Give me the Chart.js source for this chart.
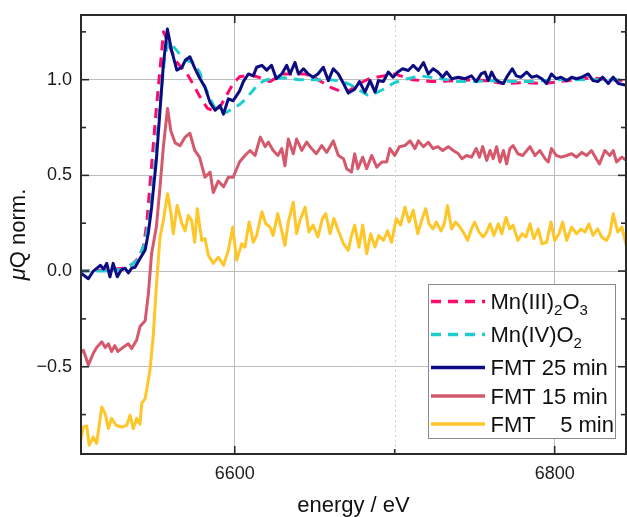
<!DOCTYPE html>
<html>
<head>
<meta charset="utf-8">
<script src="https://cdn.jsdelivr.net/npm/chart.js@4.4.1/dist/chart.umd.min.js"></script>
<style>
  html, body { margin: 0; padding: 0; background: #fff; }
  #chart { display: block; }
</style>
</head>
<body>
<canvas id="chart" width="627" height="517"></canvas>
<script>
// axis ticks
const xTicks = [6600, 6800];
const xMinorTicks = [6700];
const yTicks = [-0.5, 0, 0.5, 1.0];
const yMinorTicks = [-0.75, -0.25, 0.25, 0.75, 1.25];

// references
const mn2o3Energy = [6503, 6520, 6530, 6536, 6540, 6543, 6545, 6547, 6549, 6551, 6553, 6555.5, 6559, 6563, 6567, 6571, 6575, 6579, 6583, 6587, 6591, 6595, 6599, 6603, 6610, 6616, 6622, 6630, 6644, 6650, 6655, 6660, 6666, 6672, 6678, 6684, 6690, 6700, 6711, 6723, 6738, 6752, 6768, 6780, 6793, 6808, 6822, 6835, 6845];
const mn2o3Mu = [0.0, 0.005, 0.015, 0.035, 0.07, 0.13, 0.25, 0.45, 0.65, 0.85, 1.03, 1.25, 1.18, 1.1, 1.06, 1.02, 0.96, 0.9, 0.85, 0.835, 0.86, 0.92, 0.98, 1.015, 1.025, 1.01, 0.99, 1.03, 1.03, 1.01, 0.985, 0.96, 0.94, 0.945, 0.98, 1.005, 1.015, 1.03, 1.0, 0.99, 0.995, 1.0, 0.98, 0.985, 0.98, 0.995, 1.01, 1.0, 0.995];

const mno2Energy = [6503, 6520, 6530, 6535, 6538, 6541, 6544, 6547, 6550, 6553, 6556, 6558.5, 6562, 6566, 6570, 6574, 6578, 6582, 6587, 6591, 6595, 6599, 6603, 6607, 6611, 6615, 6620, 6630, 6640, 6650, 6660, 6667, 6672, 6677, 6683, 6688, 6693, 6700, 6708, 6716, 6725, 6740, 6750, 6760, 6775, 6786, 6800, 6815, 6830, 6845];
const mno2Mu = [0.0, 0.0, 0.01, 0.03, 0.05, 0.09, 0.15, 0.3, 0.55, 0.85, 1.1, 1.2, 1.17, 1.13, 1.1, 1.09, 1.04, 0.95, 0.86, 0.83, 0.83, 0.85, 0.87, 0.9, 0.94, 0.98, 1.0, 1.01, 1.0, 1.0, 1.0, 0.99, 0.975, 0.95, 0.92, 0.93, 0.95, 0.985, 1.005, 1.02, 1.01, 0.99, 0.99, 0.995, 0.99, 0.99, 1.0, 1.0, 1.0, 1.0];

// FMT 25 min
const fmt25Energy = [6503, 6508.5, 6511.6, 6516, 6518, 6520, 6522, 6524, 6526.6, 6529, 6531.4, 6533.5, 6535.6, 6537.7, 6540.8, 6544, 6546, 6548, 6551, 6553.3, 6555.4, 6557.9, 6560.6, 6563.8, 6567, 6569, 6572, 6575, 6578, 6581.4, 6584.6, 6587.7, 6590.8, 6593, 6596, 6599, 6603, 6605.4, 6608.5, 6611.6, 6613.7, 6617, 6620, 6623, 6626, 6629.4, 6632.5, 6634.6, 6637.7, 6639.8, 6643, 6646, 6649, 6652, 6655.4, 6658.5, 6661.6, 6664.8, 6668, 6671, 6675, 6678, 6681.4, 6684.6, 6687.7, 6689.8, 6692.9, 6696, 6699, 6702, 6705, 6708.5, 6711.6, 6714.8, 6718, 6721, 6724, 6727, 6730, 6732.5, 6735.6, 6739.8, 6744, 6748, 6751, 6754, 6756.4, 6758.5, 6760.6, 6762.7, 6764.8, 6768, 6770, 6773.5, 6776, 6779, 6782.5, 6785.6, 6788.8, 6792, 6795, 6798, 6801, 6804, 6807.5, 6810.6, 6813.7, 6817, 6821, 6824, 6827, 6830, 6833.5, 6836.6, 6839.8, 6845];
const fmt25Mu = [-0.005, -0.04, 0.0, 0.03, 0.01, 0.04, -0.03, 0.04, -0.03, 0.005, 0.015, -0.01, 0.015, 0.02, 0.065, 0.11, 0.2, 0.33, 0.58, 0.84, 1.08, 1.265, 1.15, 1.05, 1.065, 1.1, 1.12, 1.06, 1.01, 0.96, 0.88, 0.84, 0.865, 0.82, 0.9, 0.89, 0.94, 0.99, 1.03, 1.02, 1.065, 1.075, 1.05, 1.075, 1.005, 1.03, 1.075, 1.03, 1.09, 1.03, 1.057, 1.03, 1.013, 1.03, 1.065, 0.995, 1.057, 1.03, 0.98, 0.93, 0.95, 0.99, 0.935, 0.995, 0.935, 0.995, 0.99, 1.04, 1.013, 1.04, 1.057, 1.048, 1.075, 1.048, 1.09, 1.03, 1.057, 1.04, 1.013, 1.04, 1.005, 1.013, 1.005, 1.02, 0.99, 1.03, 1.04, 0.995, 1.04, 1.005, 0.99, 0.98, 1.013, 1.057, 1.02, 1.013, 1.04, 1.013, 1.02, 1.005, 0.98, 1.03, 1.005, 1.013, 0.995, 1.013, 1.005, 1.013, 1.03, 0.995, 0.99, 1.013, 0.98, 1.013, 0.98, 0.97];

// FMT 15 min
const fmt15Energy = [6503.3, 6505.4, 6508.5, 6511.6, 6513.7, 6516.9, 6519, 6521, 6523, 6525, 6527, 6530, 6533.5, 6535.6, 6538.7, 6540.8, 6544, 6546, 6548, 6551, 6553.3, 6555.4, 6558, 6560, 6562.7, 6565.8, 6569, 6572, 6575, 6578, 6581.4, 6584.6, 6586.6, 6589.7, 6593, 6596, 6599, 6603, 6606.4, 6609.6, 6612.7, 6616, 6619, 6621, 6624, 6627, 6629.4, 6631.4, 6633.5, 6636.6, 6638.7, 6641.9, 6645, 6648, 6651, 6654.4, 6657.5, 6661.6, 6664.8, 6668, 6670, 6673, 6675, 6677, 6680, 6682.5, 6685.6, 6688.8, 6692, 6695, 6697, 6700, 6703, 6706.4, 6709.6, 6712.7, 6714.8, 6718, 6721, 6724, 6727, 6730, 6733.5, 6736.6, 6739.8, 6742, 6745, 6748, 6751, 6753, 6755, 6757.5, 6759.6, 6761.6, 6763.7, 6765.8, 6768, 6770, 6772, 6774, 6777, 6780, 6784.6, 6787.7, 6790.8, 6794, 6796, 6798, 6801, 6804, 6807.5, 6810.6, 6813.7, 6817, 6820, 6823, 6826, 6828, 6831.4, 6834.5, 6836.6, 6838.7, 6842, 6845];
const fmt15Mu = [-0.43, -0.414, -0.49, -0.43, -0.4, -0.37, -0.4, -0.38, -0.42, -0.39, -0.42, -0.4, -0.38, -0.405, -0.36, -0.29, -0.26, -0.12, 0.09, 0.23, 0.44, 0.65, 0.85, 0.735, 0.67, 0.655, 0.7, 0.72, 0.63, 0.595, 0.49, 0.517, 0.41, 0.47, 0.44, 0.49, 0.49, 0.57, 0.604, 0.63, 0.604, 0.7, 0.65, 0.674, 0.63, 0.604, 0.64, 0.55, 0.69, 0.613, 0.69, 0.63, 0.674, 0.64, 0.613, 0.656, 0.62, 0.68, 0.604, 0.587, 0.535, 0.517, 0.613, 0.535, 0.595, 0.535, 0.604, 0.543, 0.57, 0.57, 0.64, 0.604, 0.65, 0.656, 0.68, 0.64, 0.68, 0.65, 0.673, 0.64, 0.65, 0.63, 0.65, 0.63, 0.613, 0.587, 0.604, 0.595, 0.64, 0.595, 0.65, 0.578, 0.63, 0.587, 0.65, 0.57, 0.63, 0.56, 0.64, 0.656, 0.613, 0.604, 0.65, 0.604, 0.63, 0.587, 0.57, 0.64, 0.604, 0.595, 0.604, 0.613, 0.595, 0.62, 0.604, 0.63, 0.587, 0.56, 0.63, 0.604, 0.63, 0.57, 0.595, 0.578];

// FMT 5 min
const fmt5Energy = [6503.3, 6505.4, 6507.5, 6509, 6511.6, 6513.7, 6516.9, 6519, 6521, 6523, 6525.8, 6529.4, 6532.5, 6534.6, 6536.6, 6538.7, 6540.8, 6541.9, 6544, 6547, 6549, 6551, 6553.3, 6555.4, 6558, 6560, 6561.6, 6564, 6567, 6569, 6571, 6573, 6575, 6576.6, 6579.4, 6581.4, 6583.5, 6586.6, 6589.7, 6593, 6596, 6598.8, 6601.2, 6604.4, 6606.4, 6609, 6611.6, 6613.7, 6617, 6619.4, 6622, 6624, 6626.9, 6629.4, 6631.4, 6633.5, 6636.6, 6638.7, 6640.8, 6644, 6646.4, 6649, 6652, 6654.8, 6656.9, 6659.6, 6662, 6664.8, 6668, 6671, 6673, 6675, 6677.7, 6680, 6682.5, 6685, 6687.7, 6690, 6693, 6695.6, 6698, 6701, 6703.7, 6706.4, 6709, 6711.6, 6714.4, 6716.9, 6719.4, 6721.4, 6724, 6726, 6729, 6731, 6733, 6735.6, 6738, 6740.8, 6743.5, 6745.6, 6748, 6750, 6752.7, 6755.4, 6757.5, 6759.6, 6762, 6764.8, 6767, 6769.6, 6772, 6774, 6777, 6779.8, 6782, 6784.6, 6787, 6789.8, 6792, 6795, 6797.7, 6800, 6802.7, 6805, 6807.5, 6810.6, 6813.7, 6816.4, 6819, 6821.4, 6824, 6826.9, 6829.4, 6832.5, 6834.5, 6836.6, 6839.4, 6842, 6845];
const fmt5Mu = [-0.9, -0.815, -0.81, -0.91, -0.867, -0.9, -0.71, -0.745, -0.823, -0.77, -0.806, -0.815, -0.806, -0.753, -0.823, -0.77, -0.8, -0.69, -0.667, -0.52, -0.345, -0.083, 0.178, 0.265, 0.404, 0.31, 0.195, 0.343, 0.247, 0.21, 0.29, 0.265, 0.15, 0.326, 0.16, 0.17, 0.082, 0.04, 0.073, 0.03, 0.108, 0.23, 0.056, 0.143, 0.125, 0.256, 0.15, 0.186, 0.31, 0.247, 0.23, 0.186, 0.3, 0.21, 0.134, 0.256, 0.36, 0.195, 0.265, 0.334, 0.204, 0.24, 0.178, 0.274, 0.3, 0.195, 0.274, 0.21, 0.143, 0.108, 0.186, 0.24, 0.125, 0.24, 0.09, 0.195, 0.125, 0.186, 0.16, 0.21, 0.15, 0.274, 0.24, 0.334, 0.256, 0.317, 0.195, 0.265, 0.326, 0.247, 0.22, 0.256, 0.21, 0.247, 0.343, 0.22, 0.256, 0.23, 0.195, 0.16, 0.22, 0.256, 0.204, 0.178, 0.204, 0.247, 0.186, 0.247, 0.195, 0.28, 0.22, 0.24, 0.16, 0.195, 0.178, 0.247, 0.17, 0.22, 0.143, 0.15, 0.256, 0.16, 0.195, 0.256, 0.16, 0.23, 0.195, 0.22, 0.204, 0.247, 0.186, 0.22, 0.178, 0.16, 0.195, 0.3, 0.204, 0.23, 0.125];

const FONT = "'Liberation Sans', Arial, sans-serif";
Chart.defaults.font.family = FONT;
Chart.defaults.color = '#1a1a1a';

const toPoints = (xs, ys) => xs.map((x, i) => ({ x, y: ys[i] }));

const series = [
    { label: 'Mn(III)2O3', parts: [['Mn(III)'], ['2', 1], ['O'], ['3', 1]], energy: mn2o3Energy, mu: mn2o3Mu, color: '#ff0a6e', dash: [10, 7], order: 2 },
    { label: 'Mn(IV)O2', parts: [['Mn(IV)O'], ['2', 1]], energy: mno2Energy, mu: mno2Mu, color: '#1ecece', dash: [10, 7], order: 1 },
    { label: 'FMT 25 min', parts: [['FMT 25 min']], energy: fmt25Energy, mu: fmt25Mu, color: '#0c0c82', dash: [], order: 0 },
    { label: 'FMT 15 min', parts: [['FMT 15 min']], energy: fmt15Energy, mu: fmt15Mu, color: '#d4596d', dash: [], order: 3 },
    { label: 'FMT   5 min', parts: [['FMT \u2007 5 min']], energy: fmt5Energy, mu: fmt5Mu, color: '#ffc629', dash: [], order: 4 }
];

// frame, inward ticks, minor grid, y title, legend
const framePlugin = {
    id: 'frame',
    beforeDatasetsDraw(chart) {
        const { ctx, chartArea: a, scales: { x } } = chart;
        ctx.save();
        ctx.strokeStyle = '#d0d0d0';
        ctx.lineWidth = 1;
        ctx.setLineDash([2, 3]);
        xMinorTicks.forEach(v => {
            const px = Math.round(x.getPixelForValue(v)) + 0.5;
            ctx.beginPath();
            ctx.moveTo(px, a.top);
            ctx.lineTo(px, a.bottom);
            ctx.stroke();
        });
        ctx.restore();
    },
    afterDraw(chart) {
        const { ctx, chartArea: a, scales: { x, y } } = chart;
        ctx.save();
        ctx.strokeStyle = '#2a2a2a';
        ctx.lineWidth = 1.6;
        const seg = (x1, y1, x2, y2) => {
            ctx.beginPath();
            ctx.moveTo(x1, y1);
            ctx.lineTo(x2, y2);
            ctx.stroke();
        };
        const xt = (vals, len) => vals.forEach(v => {
            const px = x.getPixelForValue(v);
            seg(px, a.bottom, px, a.bottom - len);
            seg(px, a.top, px, a.top + len);
        });
        const yt = (vals, len) => vals.forEach(v => {
            const py = y.getPixelForValue(v);
            seg(a.left, py, a.left + len, py);
            seg(a.right, py, a.right - len, py);
        });
        xt(xTicks, 8);
        xt(xMinorTicks, 5);
        yt(yTicks, 8);
        yt(yMinorTicks, 5);
        ctx.lineWidth = 2;
        ctx.strokeRect(a.left, a.top, a.right - a.left, a.bottom - a.top);

        // y axis title with italic mu
        ctx.fillStyle = '#111';
        ctx.textBaseline = 'alphabetic';
        const muFont = 'italic 22px ' + FONT;
        const restFont = '22px ' + FONT;
        ctx.font = muFont;
        const w1 = ctx.measureText('\u03bc').width;
        ctx.font = restFont;
        const w2 = ctx.measureText('Q norm.').width;
        ctx.translate(25, (a.top + a.bottom) / 2);
        ctx.rotate(-Math.PI / 2);
        const start = -(w1 + w2) / 2;
        ctx.font = muFont;
        ctx.fillText('\u03bc', start, 0);
        ctx.font = restFont;
        ctx.fillText('Q norm.', start + w1, 0);
        ctx.restore();

        // legend
        ctx.save();
        const bx = a.right - 197.5, by = a.bottom - 169.5, bw = 187, bh = 154;
        ctx.fillStyle = '#fff';
        ctx.fillRect(bx, by, bw, bh);
        ctx.strokeStyle = '#8a8a8a';
        ctx.lineWidth = 1;
        ctx.strokeRect(bx, by, bw, bh);
        const rows = [17, 50, 83, 111.5, 139.5];
        series.forEach((s, i) => {
            const ry = by + rows[i];
            ctx.strokeStyle = s.color;
            ctx.lineWidth = 3.5;
            ctx.setLineDash(s.dash);
            seg(bx + 2.5, ry, bx + 56.5, ry);
            ctx.setLineDash([]);
            let tx = bx + 62;
            const base = ry + 7.8;
            ctx.fillStyle = '#111';
            s.parts.forEach(([t, sub]) => {
                ctx.font = (sub ? '15px ' : '22px ') + FONT;
                ctx.fillText(t, tx, sub ? base + 6 : base);
                tx += ctx.measureText(t).width;
            });
        });
        ctx.restore();
    }
};

const noPad = s => { s.paddingTop = 0; s.paddingBottom = 0; s.paddingLeft = 0; s.paddingRight = 0; };

new Chart(document.getElementById('chart'), {
    type: 'line',
    data: {
        datasets: series.map(s => ({
            label: s.label,
            data: toPoints(s.energy, s.mu),
            borderColor: s.color,
            borderWidth: 3,
            borderDash: s.dash,
            pointRadius: 0,
            tension: 0,
            fill: false,
            order: s.order
        }))
    },
    options: {
        responsive: false,
        animation: false,
        devicePixelRatio: 1,
        layout: { padding: { top: 15, right: 1, left: 0, bottom: 0 } },
        plugins: {
            legend: { display: false },
            tooltip: { enabled: false }
        },
        elements: { line: { borderJoinStyle: 'round' } },
        scales: {
            x: {
                type: 'linear',
                min: 6503.9,
                max: 6844.6,
                afterBuildTicks: s => { s.ticks = xTicks.map(v => ({ value: v })); },
                afterFit: s => { s.height = 63; noPad(s); },
                grid: { color: '#bdbdbd', lineWidth: 1, drawTicks: false },
                border: { display: false },
                ticks: { padding: 9, color: '#1a1a1a', font: { size: 18 }, maxRotation: 0, callback: v => String(v) },
                title: { display: true, text: 'energy / eV', color: '#111', font: { size: 22 }, padding: { top: 0, bottom: -2 } }
            },
            y: {
                type: 'linear',
                min: -0.956,
                max: 1.338,
                afterBuildTicks: s => { s.ticks = yTicks.map(v => ({ value: v })); },
                afterFit: s => { s.width = 81; noPad(s); },
                grid: { color: '#bdbdbd', lineWidth: 1, drawTicks: false },
                border: { display: false },
                ticks: { padding: 9, color: '#1a1a1a', font: { size: 18 }, callback: v => v.toFixed(1).replace('-', '\u2212') }
            }
        }
    },
    plugins: [framePlugin]
});
</script>
</body>
</html>
